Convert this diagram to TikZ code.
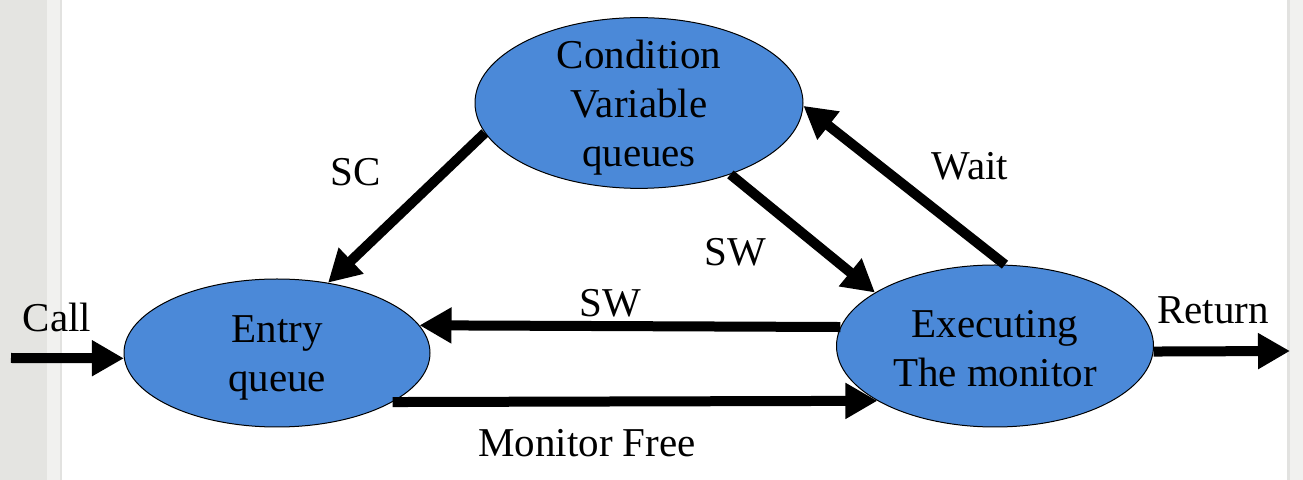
\documentclass[tikz,border=0pt]{standalone}
\usepackage{fontspec}
\setmainfont{Liberation Serif}
\usetikzlibrary{shapes.geometric,arrows.meta}

\begin{document}
\begin{tikzpicture}[x=0.5pt,y=0.5pt,yscale=-1,xscale=1,
	queuenode/.style={ellipse,draw=black,line width=0.5pt,fill={rgb, 255:red, 75; green, 137; blue, 216},inner xsep=0pt,inner ysep=-6pt,align=center,font=\fontsize{20.5}{24.5}\selectfont},
	flow/.style={line width=5pt,-{Triangle[length=16pt,width=17pt]}},
	lbl/.style={inner sep=0pt,font=\fontsize{20.5}{24.5}\selectfont}]
		\useasboundingbox (0,0) rectangle (1303,480);
		
		%Shape: side strips
		\fill [color={rgb, 255:red, 228; green, 228; blue, 225 }] (0,0) rectangle (47,480);
		\fill [color={rgb, 255:red, 241; green, 241; blue, 239 }] (47,0) rectangle (60,480);
		\fill [color={rgb, 255:red, 226; green, 226; blue, 224 }] (60,0) rectangle (62,480);
		\fill [color={rgb, 255:red, 226; green, 226; blue, 224 }] (1287,0) rectangle (1290,480);
		\fill [color={rgb, 255:red, 241; green, 241; blue, 239 }] (1290,0) rectangle (1303,480);
		
		%Shape: Ellipse [entry]
		\node [queuenode,minimum width=153pt,minimum height=74pt] (entry) at (277,353) {\rule{0pt}{18pt}Entry\\queue};
		%Shape: Ellipse [exec]
		\node [queuenode,minimum width=158.5pt,minimum height=81pt] (exec) at (995,346) {\rule{0pt}{16pt}Executing\\The monitor};
		%Shape: Ellipse [cond]
		\node [queuenode,minimum width=164pt,minimum height=85pt] (cond) at (639,103) {\rule{0pt}{19pt}Condition\\Variable\\queues};
		
		\coordinate (callin) at (11,358);
		\coordinate (retout) at (1290,351);
		
		%Arrows
		\draw [flow] (callin) -- (entry.182);
		\draw [flow] (exec.358) -- (retout);
		\draw [flow] (cond.191) -- (entry.54);
		\draw [flow] (cond.322) -- (exec.156);
		\draw [flow] (exec.83) -- (cond.359);
		\draw [flow] (exec.173) -- (entry.11);
		\draw [flow] (entry.337) -- (exec.205);
		
		% Text Node
		\node [lbl] (calltxt) at (57,317) {Call};
		% Text Node
		\node [lbl] (rettxt) at (1213,310) {Return};
		% Text Node
		\node [lbl] (sctxt) at (356,172) {SC};
		% Text Node
		\node [lbl] (swdtxt) at (735,252) {SW};
		% Text Node
		\node [lbl] (waittxt) at (970,166) {Wait};
		% Text Node
		\node [lbl] (swhtxt) at (610,303) {SW};
		% Text Node
		\node [lbl] (freetxt) at (587,443) {Monitor Free};
		
\end{tikzpicture}
\end{document}
